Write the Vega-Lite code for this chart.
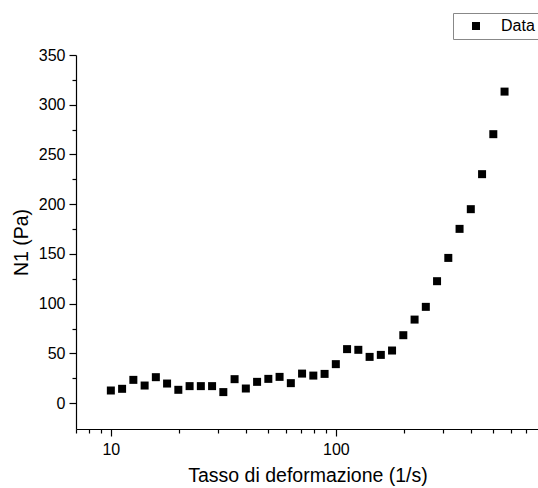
{
  "$schema": "https://vega.github.io/schema/vega-lite/v6.json",
  "autosize": "none",
  "width": 463,
  "height": 374,
  "padding": {"left": 76, "top": 55, "right": 0, "bottom": 59},
  "config": {
    "view": {"stroke": null},
    "font": "Liberation Sans",
    "axis": {
      "domainColor": "black",
      "domainWidth": 1.2,
      "tickColor": "black",
      "tickWidth": 1.2,
      "labelColor": "black",
      "titleColor": "black",
      "labelFont": "Liberation Sans",
      "titleFont": "Liberation Sans",
      "labelFontSize": 16,
      "titleFontSize": 19.5,
      "titleFontWeight": "normal",
      "grid": false
    }
  },
  "data": {
    "values": [
      {"rate": 10.0, "N1": 12.7},
      {"rate": 11.22, "N1": 14.4},
      {"rate": 12.59, "N1": 23.4},
      {"rate": 14.13, "N1": 17.7},
      {"rate": 15.85, "N1": 26.1},
      {"rate": 17.78, "N1": 19.7},
      {"rate": 19.95, "N1": 13.4},
      {"rate": 22.39, "N1": 17.1},
      {"rate": 25.12, "N1": 17.1},
      {"rate": 28.18, "N1": 17.1},
      {"rate": 31.62, "N1": 11.1},
      {"rate": 35.48, "N1": 24.1},
      {"rate": 39.81, "N1": 14.7},
      {"rate": 44.67, "N1": 21.4},
      {"rate": 50.12, "N1": 24.4},
      {"rate": 56.23, "N1": 26.4},
      {"rate": 63.1, "N1": 20.1},
      {"rate": 70.79, "N1": 29.7},
      {"rate": 79.43, "N1": 27.7},
      {"rate": 89.13, "N1": 29.4},
      {"rate": 100.0, "N1": 39.2},
      {"rate": 112.2, "N1": 54.3},
      {"rate": 125.9, "N1": 53.6},
      {"rate": 141.3, "N1": 46.5},
      {"rate": 158.5, "N1": 48.5},
      {"rate": 177.8, "N1": 52.9},
      {"rate": 199.5, "N1": 68.3},
      {"rate": 223.9, "N1": 84.0},
      {"rate": 251.2, "N1": 96.8},
      {"rate": 281.8, "N1": 122.6},
      {"rate": 316.2, "N1": 146.0},
      {"rate": 354.8, "N1": 175.2},
      {"rate": 398.1, "N1": 195.0},
      {"rate": 446.7, "N1": 230.2},
      {"rate": 501.2, "N1": 270.4},
      {"rate": 562.3, "N1": 313.2}
    ]
  },
  "mark": {"type": "point", "shape": "square", "filled": true, "color": "black", "opacity": 1, "size": 64},
  "encoding": {
    "x": {
      "field": "rate",
      "type": "quantitative",
      "scale": {"type": "log", "domain": [7, 800], "nice": false},
      "axis": {
        "title": "Tasso di deformazione (1/s)",
        "values": [7, 8, 9, 10, 20, 30, 40, 50, 60, 70, 80, 90, 100, 200, 300, 400, 500, 600, 700, 800],
        "labelExpr": "datum.value === 10 || datum.value === 100 ? datum.value : ''",
        "tickSize": {"condition": {"test": "datum.value === 10 || datum.value === 100", "value": 7}, "value": 4},
        "labelPadding": 5,
        "labelFlush": false,
        "labelOverlap": false,
        "titlePadding": 9
      }
    },
    "y": {
      "field": "N1",
      "type": "quantitative",
      "scale": {"domain": [-26, 350], "nice": false, "zero": false},
      "axis": {
        "title": "N1 (Pa)",
        "values": [0, 25, 50, 75, 100, 125, 150, 175, 200, 225, 250, 275, 300, 325, 350],
        "labelExpr": "datum.value % 50 === 0 ? datum.value : ''",
        "tickSize": {"condition": {"test": "datum.value % 50 === 0", "value": 7}, "value": 4},
        "labelPadding": 4,
        "labelFlush": false,
        "labelOverlap": false,
        "titlePadding": 7
      }
    },
    "shape": {
      "datum": "Data",
      "scale": {"range": ["square"]},
      "legend": {
        "title": null,
        "orient": "none",
        "legendX": 377,
        "legendY": -42,
        "direction": "vertical",
        "padding": 5,
        "strokeColor": "#888888",
        "fillColor": "white",
        "symbolFillColor": "black",
        "symbolStrokeColor": "black",
        "symbolSize": 64,
        "symbolOffset": 10,
        "labelOffset": 17,
        "labelFontSize": 16,
        "labelColor": "black",
        "labelFont": "Liberation Sans"
      }
    }
  }
}
